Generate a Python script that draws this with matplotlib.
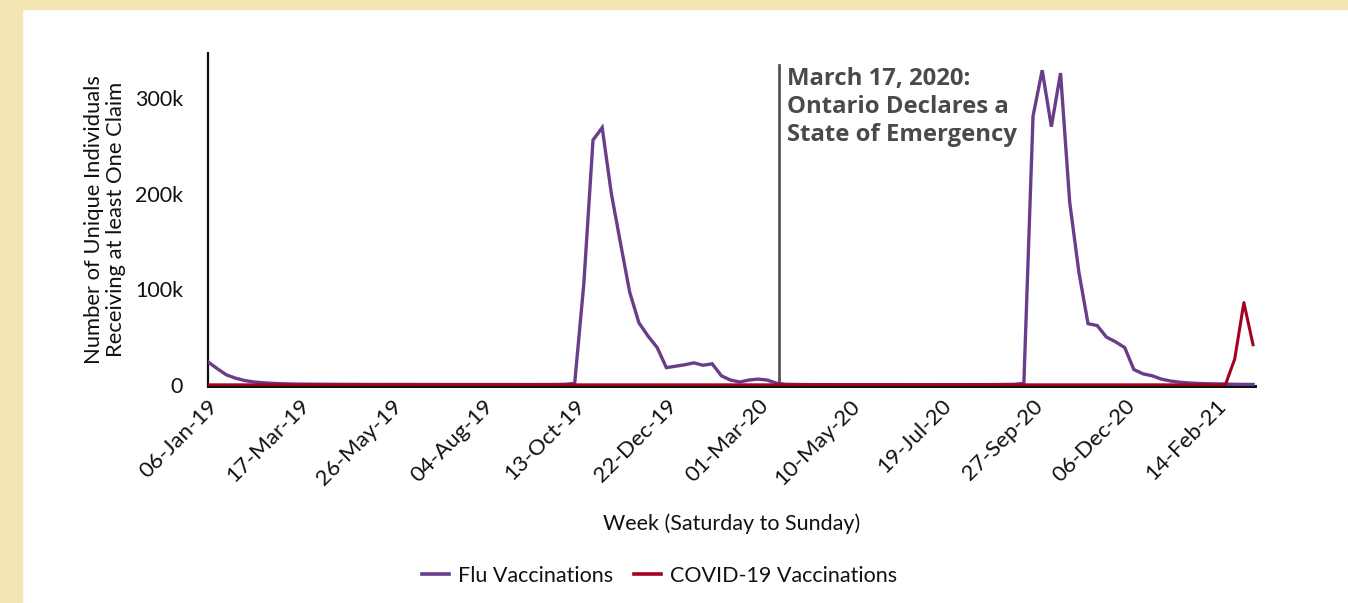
import matplotlib
matplotlib.use("Agg")
import matplotlib.pyplot as plt
import matplotlib.patches as mpatches
import pandas as pd

# ---- data ----
start_week = "2019-01-06"
n_weeks = 115

flu = [
    24000, 17000, 10500, 7000, 4500, 3000, 2200, 1600, 1200,
    900, 800, 700, 650, 600, 550, 500, 500, 450, 450,
    400, 400, 400, 400, 380, 380, 360, 360, 350, 350,
    350, 340, 340, 330, 330, 320, 320, 320, 350, 400,
    600, 1500,
    106000, 256000, 269000, 200000, 148000, 97000, 65000, 51000, 39000,
    18000, 19500, 21000, 23000, 20500, 22000, 9500, 5000, 3000, 5000,
    6000, 5000, 1800,
    600, 400, 300, 250, 220, 200, 200, 200, 190, 190,
    180, 180, 180, 170, 170, 170, 170, 180, 180, 190,
    200, 220, 250, 300, 400, 600,
    1500,
    281000, 329000, 270000, 326000, 191000, 118000, 64000, 62000, 50000,
    45000, 39000, 16000, 11500, 9500, 6000, 4000, 2800, 2000, 1500,
    1200, 1000, 800, 600, 500, 400,
]

covid = [
    0, 0, 0, 0, 0, 0, 0, 0, 0, 0, 0, 0, 0, 0, 0, 0, 0, 0, 0, 0,
    0, 0, 0, 0, 0, 0, 0, 0, 0, 0, 0, 0, 0, 0, 0, 0, 0, 0, 0, 0,
    0, 0, 0, 0, 0, 0, 0, 0, 0, 0, 0, 0, 0, 0, 0, 0, 0, 0, 0, 0,
    0, 0, 0, 0, 0, 0, 0, 0, 0, 0, 0, 0, 0, 0, 0, 0, 0, 0, 0, 0,
    0, 0, 0, 0, 0, 0, 0, 0, 0, 0, 0, 0, 0, 0, 0, 0, 0, 0, 0, 0,
    0, 0, 0, 0, 0, 0, 0, 0, 0, 0, 0,
    500, 27000, 86000, 42000,
]

y_ticks = [0, 100000, 200000, 300000]
y_tick_labels = ["0", "100k", "200k", "300k"]
event_date = "2020-03-17"
event_text = "March 17, 2020:\nOntario Declares a\nState of Emergency"

weeks = pd.date_range(start_week, periods=n_weeks, freq="7D")

# ---- figure ----
fig = plt.figure(figsize=(13.48, 6.03), dpi=100)
fig.patch.set_facecolor("white")
beige = "#F5E5B4"
fig.patches.append(mpatches.Rectangle((0, 0), 22 / 1348, 1, transform=fig.transFigure,
                                      color=beige, zorder=0))
fig.patches.append(mpatches.Rectangle((0, 1 - 9 / 603), 1, 9 / 603, transform=fig.transFigure,
                                      color=beige, zorder=0))

ax = fig.add_axes([208 / 1348, 1 - 386 / 603, (1255 - 208) / 1348, (386 - 53) / 603])

purple = "#6A3D8A"
red = "#A50021"
ax.plot(weeks, flu, color=purple, lw=2.4, zorder=3, label="Flu Vaccinations",
        solid_joinstyle="miter")
ax.plot(weeks, covid, color=red, lw=2.2, zorder=4, label="COVID-19 Vaccinations")

ev = pd.Timestamp(event_date)
ax.axvline(ev, ymin=0, ymax=0.964, color="#555555", lw=2.0, zorder=2)
ax.annotate(event_text, xy=(ev, 0.958), xycoords=("data", "axes fraction"),
            xytext=(6, 0), textcoords="offset points", ha="left", va="top",
            fontsize=17.2, fontweight="bold", family="Open Sans", color="#4A4A4A",
            linespacing=1.22)

ax.set_xlim(weeks[0], weeks[-1] + pd.Timedelta(days=1.5))
ax.set_ylim(-1200, 347000)

ax.set_yticks(y_ticks)
ax.set_yticklabels(y_tick_labels, family="Lato", fontsize=15.5)
xt = weeks[::10]
ax.set_xticks(xt)
ax.set_xticklabels([d.strftime("%d-%b-%y") for d in xt], rotation=45, ha="right",
                   rotation_mode="anchor", family="Lato", fontsize=16)
ax.tick_params(axis="both", length=0, colors="#111111")
ax.tick_params(axis="y", pad=18)
ax.tick_params(axis="x", pad=7)

for s in ["top", "right"]:
    ax.spines[s].set_visible(False)
ax.spines["left"].set_linewidth(1.6)
ax.spines["bottom"].set_linewidth(2.2)
ax.spines["left"].set_color("#111111")
ax.spines["bottom"].set_color("#111111")

ax.set_ylabel("Number of Unique Individuals\nReceiving at least One Claim",
              family="Lato", fontsize=15.8, labelpad=6, linespacing=1.12, color="#111111")
ax.set_xlabel("Week (Saturday to Sunday)", family="Lato", fontsize=15.5, labelpad=18,
              color="#111111")

leg = fig.legend(loc="center", bbox_to_anchor=(659.5 / 1348, 1 - 576 / 603), ncol=2,
                 frameon=False, prop={"family": "Lato", "size": 15.5},
                 handlelength=1.25, handletextpad=0.4, columnspacing=1.0)
for line in leg.get_lines():
    line.set_linewidth(2.6)
for t in leg.get_texts():
    t.set_color("#111111")

fig.savefig("out.png", dpi=100, facecolor=fig.get_facecolor())
